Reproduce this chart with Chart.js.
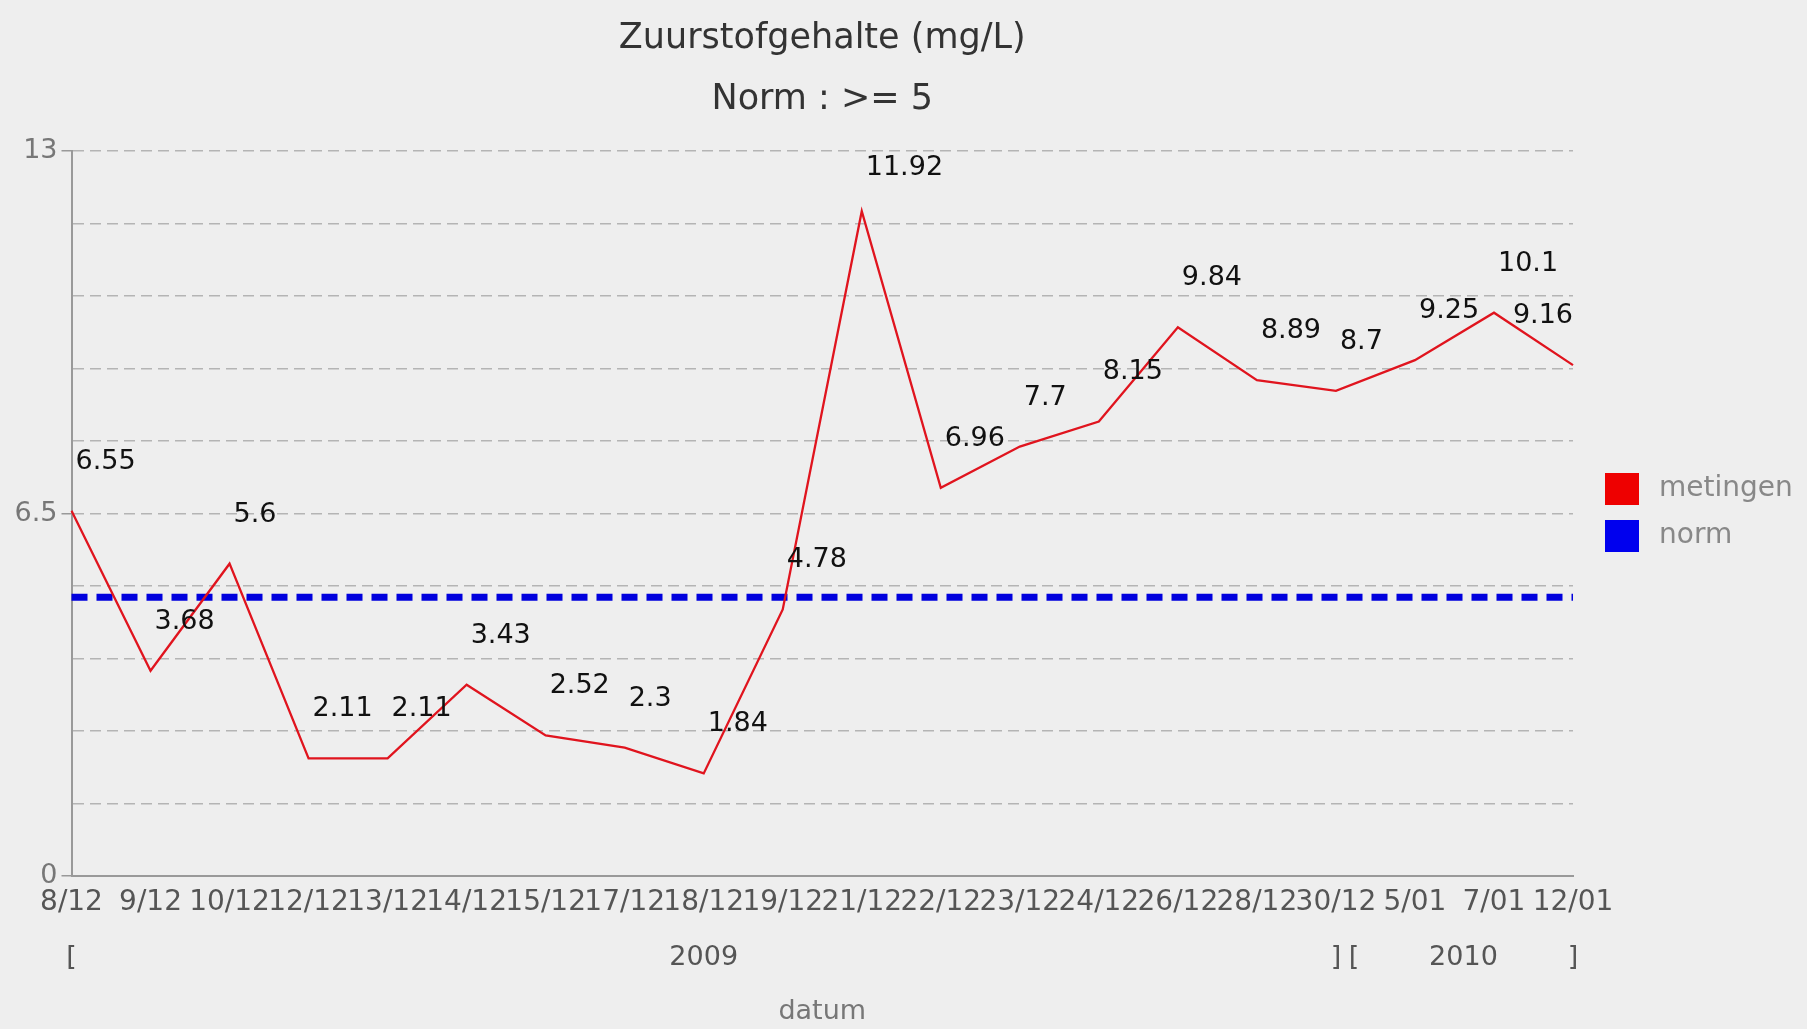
<!DOCTYPE html>
<html>
<head>
<meta charset="utf-8">
<script src="https://cdn.jsdelivr.net/npm/chart.js@4/dist/chart.umd.min.js"></script>
<style>
html,body{margin:0;padding:0;background:#eeeeee;}
#wrap{width:1807px;height:1029px;}
</style>
</head>
<body>
<div id="wrap"><canvas id="c" width="1807" height="1029"></canvas></div>
<script>
// ---- data ----
const categories = ['8/12','9/12','10/12','12/12','13/12','14/12','15/12','17/12','18/12','19/12','21/12','22/12','23/12','24/12','26/12','28/12','30/12','5/01','7/01','12/01'];
const metingen = [6.55,3.68,5.6,2.11,2.11,3.43,2.52,2.3,1.84,4.78,11.92,6.96,7.7,8.15,9.84,8.89,8.7,9.25,10.1,9.16];
const norm = [5,5,5,5,5,5,5,5,5,5,5,5,5,5,5,5,5,5,5,5];
const yMin = 0, yMax = 13, yStep = 1.3;
const yLabelEvery = 5;               // only 0, 6.5 and 13 are labelled
const yearLabels = ['2009','2010'];
const yearFrom = [0,16];
const yearTo = [16,19];
const titleText = 'Zuurstofgehalte (mg/L)';
const subtitleText = 'Norm : >= 5';
const xAxisTitle = 'datum';
const seriesNames = ['metingen','norm'];

const FONT = "'DejaVu Sans', sans-serif";
Chart.defaults.font.family = FONT;

const bgPlugin = {
  id: 'bg',
  beforeDraw(chart) {
    const ctx = chart.ctx;
    ctx.save();
    ctx.fillStyle = '#eeeeee';
    ctx.fillRect(0, 0, chart.width, chart.height);
    ctx.restore();
  }
};

const valueLabels = {
  id: 'valueLabels',
  afterDatasetsDraw(chart) {
    const {ctx, chartArea} = chart;
    const meta = chart.getDatasetMeta(0);
    ctx.save();
    ctx.font = '27px ' + FONT;
    ctx.fillStyle = '#111111';
    ctx.textBaseline = 'middle';
    ctx.textAlign = 'left';
    meta.data.forEach((pt, i) => {
      const txt = String(metingen[i]);
      const w = ctx.measureText(txt).width;
      let x = pt.x + 4;
      if (x + w > chartArea.right) x = chartArea.right - w;
      let y = pt.y - 49;
      if (y < chartArea.top + 17) y = chartArea.top + 17;
      ctx.fillText(txt, x, y);
    });
    ctx.restore();
  }
};

const extras = {
  id: 'extras',
  afterDraw(chart) {
    const {ctx, chartArea} = chart;
    const xs = chart.scales.x;
    ctx.save();
    ctx.font = '27px ' + FONT;
    ctx.textBaseline = 'middle';
    // year groups
    ctx.fillStyle = '#555555';
    const yRow = 958;
    yearLabels.forEach((lab, g) => {
      const x1 = xs.getPixelForValue(yearFrom[g]) + (g > 0 ? 18 : 0);
      const x2 = xs.getPixelForValue(yearTo[g]);
      ctx.textAlign = 'center';
      ctx.fillText('[', x1, yRow);
      ctx.fillText(']', x2, yRow);
      ctx.fillText(lab, (x1 + x2) / 2, yRow);
    });
    // axis title
    ctx.fillStyle = '#777777';
    ctx.textAlign = 'center';
    ctx.fillText(xAxisTitle, (chartArea.left + chartArea.right) / 2, 1012);
    // legend
    const ds = chart.data.datasets;
    const lx = 1605, ly = [473, 520];
    ctx.font = '28px ' + FONT;
    ctx.textAlign = 'left';
    ds.forEach((d, i) => {
      ctx.fillStyle = d.legendColor;
      ctx.fillRect(lx, ly[i], 34, 32);
      ctx.fillStyle = '#888888';
      ctx.fillText(d.label, lx + 54, ly[i] + 16);
    });
    ctx.restore();
  }
};

new Chart(document.getElementById('c'), {
  type: 'line',
  data: {
    labels: categories,
    datasets: [
      {
        label: seriesNames[0],
        data: metingen,
        borderColor: '#e0141e',
        legendColor: '#ee0000',
        borderWidth: 2.3,
        pointRadius: 0,
        tension: 0,
        fill: false
      },
      {
        label: seriesNames[1],
        data: norm,
        borderColor: '#0000dd',
        legendColor: '#0000ee',
        borderWidth: 7,
        borderDash: [16, 9],
        pointRadius: 0,
        tension: 0,
        fill: false
      }
    ]
  },
  options: {
    responsive: false,
    animation: false,
    devicePixelRatio: 1,
    layout: { padding: { left: 0, top: 14, right: 234, bottom: 93 } },
    plugins: {
      legend: { display: false },
      tooltip: { enabled: false },
      title: {
        display: true,
        text: titleText,
        fullSize: false,
        color: '#333333',
        font: { family: FONT, size: 35, weight: 'normal' },
        padding: { top: 4, bottom: 12 }
      },
      subtitle: {
        display: true,
        text: subtitleText,
        fullSize: false,
        color: '#333333',
        font: { family: FONT, size: 35, weight: 'normal' },
        padding: { top: 7, bottom: 30 }
      }
    },
    scales: {
      x: {
        offset: false,
        grid: { display: false, drawTicks: false },
        border: { display: true, color: '#999999', width: 2 },
        ticks: {
          autoSkip: false,
          maxRotation: 0,
          minRotation: 0,
          padding: 10,
          color: '#555555',
          font: { family: FONT, size: 28 }
        },
        afterFit(scale) { scale.height = 60; }
      },
      y: {
        min: yMin,
        max: yMax,
        ticks: {
          stepSize: yStep,
          padding: 4,
          color: '#777777',
          font: { family: FONT, size: 27 },
          callback: (value, index) => index % yLabelEvery === 0 ? String(Math.round(value * 10) / 10) : ''
        },
        grid: {
          color: '#b4b4b4',
          lineWidth: 1.5,
          tickLength: 10,
          tickColor: (c) => (c.index % yLabelEvery === 0 ? '#999999' : 'rgba(0,0,0,0)')
        },
        border: { display: true, color: '#999999', width: 2, dash: [11, 6] },
        afterFit(scale) { scale.width = 71.5; }
      }
    }
  },
  plugins: [bgPlugin, valueLabels, extras]
});
</script>
</body>
</html>
